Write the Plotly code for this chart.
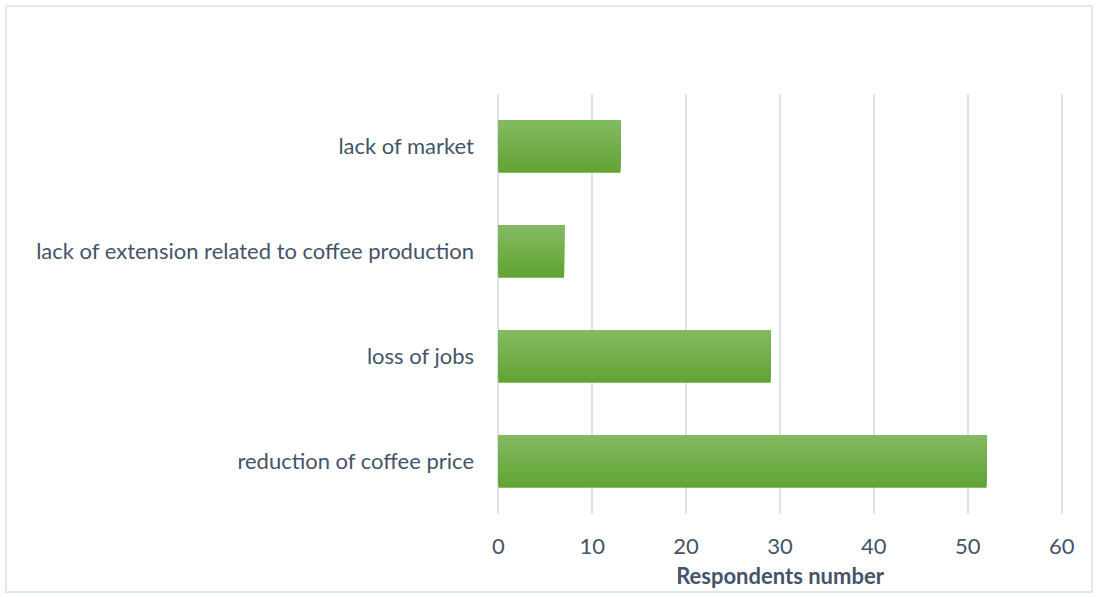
import plotly.graph_objects as go

# Survey results: perceived consequences, respondents per answer
categories = [
    "reduction of coffee price",
    "loss of jobs",
    "lack of extension related to coffee production",
    "lack of market",
]
respondents = [52, 29, 7, 13]
x_ticks = [0, 10, 20, 30, 40, 50, 60]

TEXT = "#44546a"
GRID = "#dfe3e9"
FONT = "Lato"

# Vertical green gradient built from stacked overlay layers (dark at bottom, light at top)
top_rgb = (0x83, 0xBA, 0x62)
bot_rgb = (0x62, 0xA3, 0x34)
n_layers = 24
bar_w = 0.5

fig = go.Figure()
for k in range(n_layers):
    t = k / (n_layers - 1)
    rgb = tuple(round(b + (a - b) * t) for a, b in zip(top_rgb, bot_rgb))
    w = bar_w * (1 - k / n_layers)
    fig.add_trace(go.Bar(
        y=categories,
        x=respondents,
        orientation="h",
        width=w,
        offset=bar_w / 2 - w,
        marker=dict(color="rgb(%d,%d,%d)" % rgb, line=dict(width=0)),
        hoverinfo="x+y" if k == 0 else "skip",
        showlegend=False,
    ))

# plot area geometry (pixels)
W, H = 1096, 597
L, R, T, B = 496, 32, 94, 83
pw, ph = W - L - R, H - T - B


def px_x(p):
    return (p - L) / pw


def px_y(p):
    return (H - B - p) / ph


fig.update_layout(
    width=W,
    height=H,
    margin=dict(l=L, r=R, t=T, b=B),
    paper_bgcolor="white",
    plot_bgcolor="white",
    barmode="overlay",
    font=dict(family=FONT, color=TEXT, size=22),
    xaxis=dict(
        # padded slightly beyond 0..60 so the edge gridlines are still drawn
        range=[-0.25, 60.25],
        tickvals=x_ticks,
        showgrid=True,
        gridcolor=GRID,
        gridwidth=2,
        zeroline=False,
        showline=False,
        ticks="",
        ticklabelstandoff=17,
        tickfont=dict(size=22, color=TEXT),
        title=dict(text="<b>Respondents number</b>", font=dict(size=22, color=TEXT), standoff=10),
    ),
    yaxis=dict(
        categoryorder="array",
        categoryarray=categories,
        showgrid=False,
        zeroline=False,
        showline=False,
        ticks="",
        ticklabelstandoff=21,
        tickfont=dict(size=22, color=TEXT),
    ),
    shapes=[dict(
        type="rect", xref="paper", yref="paper",
        x0=px_x(6), x1=px_x(1092),
        y0=px_y(592), y1=px_y(6),
        line=dict(color="#dcdfe4", width=1.5),
        fillcolor="rgba(0,0,0,0)",
        layer="below",
    )],
)

fig.write_html("out.html")
